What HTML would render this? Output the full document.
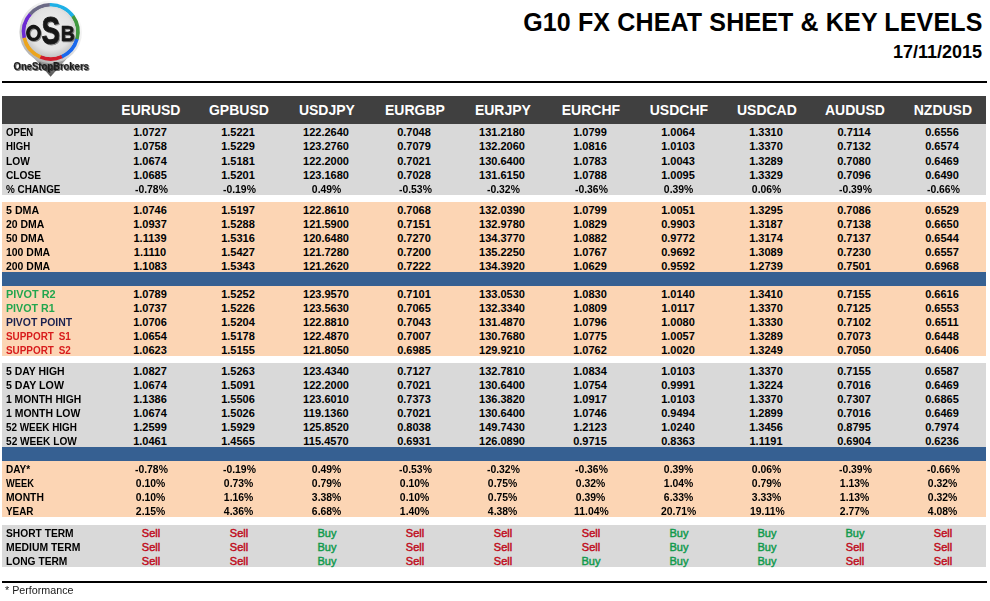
<!DOCTYPE html>
<html><head><meta charset="utf-8"><title>G10 FX Cheat Sheet</title>
<style>
*{margin:0;padding:0;box-sizing:border-box}
html,body{width:990px;height:601px;overflow:hidden;background:#fff}
body{position:relative;font-family:"Liberation Sans",sans-serif;color:#000}
.title{position:absolute;right:7.5px;top:8.3px;font-size:25px;font-weight:bold;line-height:28px;white-space:nowrap;letter-spacing:0.15px}
.date{position:absolute;right:8px;top:42px;font-size:18px;font-weight:bold;line-height:20px;white-space:nowrap}
.line{position:absolute;left:2px;width:985px;height:2px;background:#000}
.band{position:absolute;left:2px;width:984px}
.hd{background:#404040}
.gy{background:#d9d9d9}
.pc{background:#fcd5b4}
.bl{background:#366092}
.row{position:absolute;left:2px;width:984px;height:14px;display:flex;font-size:11px;font-weight:bold;line-height:14px}
.row .lab{width:104px;padding-left:3.5px;white-space:nowrap;position:relative;top:1px}
.row .lab span{display:inline-block;transform-origin:0 50%}
.row .c{width:88px;text-align:center;white-space:nowrap;position:relative;top:1px}
.hrow{height:28px;line-height:28px;font-size:14px;color:#fff}
.hrow .c{top:0;left:0.9px}
.pc1{display:inline-block;transform:scaleX(0.945);position:relative;left:1px}
.g{color:#22a64e}
.n{color:#1a2150}
.r{color:#d81c1c;word-spacing:2.4px}
.buy{color:#109a4c;font-weight:normal;-webkit-text-stroke:0.45px #109a4c;left:1px}
.sell{color:#c00c1c;font-weight:normal;-webkit-text-stroke:0.45px #c00c1c;left:1px}
.foot{position:absolute;left:5px;top:583px;font-size:11px;line-height:14px;color:#1a1a1a;transform:scaleX(0.975);transform-origin:0 50%}
.logo{position:absolute;left:0;top:0}
</style></head>
<body>
<div class="logo"><svg width="100" height="80" viewBox="0 0 100 80">
<defs>
<radialGradient id="ig" cx="0.5" cy="0.45" r="0.55"><stop offset="0" stop-color="#f0f0f0"/><stop offset="0.75" stop-color="#e2e2e2"/><stop offset="1" stop-color="#c4c4c4"/></radialGradient>
<linearGradient id="rg" x1="0.8" y1="0.1" x2="0.2" y2="0.9"><stop offset="0" stop-color="#ffffff"/><stop offset="0.5" stop-color="#e4e4e4"/><stop offset="1" stop-color="#b4b4b4"/></linearGradient>
<linearGradient id="pg" x1="0" y1="0" x2="0" y2="1"><stop offset="0.3" stop-color="#a8a8a8"/><stop offset="1" stop-color="#505050"/></linearGradient>
<filter id="sh" x="-20%" y="-20%" width="140%" height="160%"><feGaussianBlur in="SourceAlpha" stdDeviation="0.6"/><feOffset dx="0.6" dy="0.8"/><feComponentTransfer><feFuncA type="linear" slope="0.4"/></feComponentTransfer><feMerge><feMergeNode/><feMergeNode in="SourceGraphic"/></feMerge></filter>
<filter id="sh2" x="-10%" y="-30%" width="120%" height="180%"><feGaussianBlur in="SourceAlpha" stdDeviation="0.7"/><feOffset dx="0.9" dy="1"/><feComponentTransfer><feFuncA type="linear" slope="0.55"/></feComponentTransfer><feMerge><feMergeNode/><feMergeNode in="SourceGraphic"/></feMerge></filter>
</defs>
<path d="M28.5 52 L50.6 76.8 L72.7 52 Z" fill="url(#pg)"/>
<circle cx="50.75" cy="31.9" r="31.3" fill="url(#rg)"/>
<path d="M49.43 2.93 A29.0 29.0 0 0 1 74.53 15.31 L71.34 17.54 A25.1 25.1 0 0 0 49.61 6.83 Z" fill="#1eb0e6"/>
<path d="M74.36 15.06 A29.0 29.0 0 0 1 78.64 39.84 L74.89 38.78 A25.1 25.1 0 0 0 71.18 17.32 Z" fill="#40983f"/>
<path d="M78.72 39.55 A29.0 29.0 0 0 1 62.31 58.49 L60.76 54.92 A25.1 25.1 0 0 0 74.96 38.52 Z" fill="#1a68ec"/>
<path d="M62.59 58.37 A29.0 29.0 0 0 1 39.42 58.59 L40.94 55.00 A25.1 25.1 0 0 0 61.00 54.81 Z" fill="#d01c2c"/>
<path d="M39.70 58.71 A29.0 29.0 0 0 1 22.36 37.83 L26.18 37.03 A25.1 25.1 0 0 0 41.19 55.11 Z" fill="#eca41c"/>
<path d="M22.43 38.13 A29.0 29.0 0 0 1 29.03 12.68 L31.95 15.27 A25.1 25.1 0 0 0 26.24 37.29 Z" fill="#6c2ad2"/>
<path d="M28.83 12.91 A29.0 29.0 0 0 1 49.74 2.92 L49.87 6.82 A25.1 25.1 0 0 0 31.78 15.47 Z" fill="#6c6a86"/>
<circle cx="50.75" cy="31.9" r="25.3" fill="url(#ig)"/>
<g fill="#161616" stroke="#161616" stroke-width="0.15" stroke-linejoin="round" font-family="Liberation Sans" font-weight="bold" filter="url(#sh)">
<path fill-rule="evenodd" stroke="none" d="M33.5 24.85 a7.45 8.1 0 1 0 0.001 0 Z M33.65 28.45 a3.9 4.65 0 1 1 -0.001 0 Z"/>
<text x="0" y="0" font-size="39" stroke-width="0.9" transform="translate(41.6 43.9) scale(0.71 1)">S</text>
<text x="0" y="0" font-size="21.6" stroke-width="0.6" transform="translate(60.7 40.8) scale(0.9 1)">B</text>
</g>
<text x="0" y="0" font-family="Liberation Sans" font-weight="bold" font-size="10.6" fill="#1e1e1e" stroke="#1e1e1e" stroke-width="0.2" filter="url(#sh2)" transform="translate(13.6 69.6) scale(0.9 1)" textLength="83.6" lengthAdjust="spacingAndGlyphs">OneStopBrokers</text>
</svg></div>
<div class="title">G10 FX CHEAT SHEET &amp; KEY LEVELS</div>
<div class="date">17/11/2015</div>
<div class="line" style="top:81px"></div>
<div class="band hd" style="top:96px;height:28px"></div>
<div class="row hrow" style="top:96px"><div class="lab"></div><div class="c">EURUSD</div><div class="c">GPBUSD</div><div class="c">USDJPY</div><div class="c">EURGBP</div><div class="c">EURJPY</div><div class="c">EURCHF</div><div class="c">USDCHF</div><div class="c">USDCAD</div><div class="c">AUDUSD</div><div class="c">NZDUSD</div></div>
<div class="band gy" style="top:124px;height:71px"></div>
<div class="row" style="top:124.00px"><div class="lab "><span style="transform:scaleX(0.874)">OPEN</span></div><div class="c ">1.0727</div><div class="c ">1.5221</div><div class="c ">122.2640</div><div class="c ">0.7048</div><div class="c ">131.2180</div><div class="c ">1.0799</div><div class="c ">1.0064</div><div class="c ">1.3310</div><div class="c ">0.7114</div><div class="c ">0.6556</div></div>
<div class="row" style="top:138.00px"><div class="lab "><span style="transform:scaleX(0.88)">HIGH</span></div><div class="c ">1.0758</div><div class="c ">1.5229</div><div class="c ">123.2760</div><div class="c ">0.7079</div><div class="c ">132.2060</div><div class="c ">1.0816</div><div class="c ">1.0103</div><div class="c ">1.3370</div><div class="c ">0.7132</div><div class="c ">0.6574</div></div>
<div class="row" style="top:153.00px"><div class="lab "><span style="transform:scaleX(0.93)">LOW</span></div><div class="c ">1.0674</div><div class="c ">1.5181</div><div class="c ">122.2000</div><div class="c ">0.7021</div><div class="c ">130.6400</div><div class="c ">1.0783</div><div class="c ">1.0043</div><div class="c ">1.3289</div><div class="c ">0.7080</div><div class="c ">0.6469</div></div>
<div class="row" style="top:167.00px"><div class="lab "><span style="transform:scaleX(0.926)">CLOSE</span></div><div class="c ">1.0685</div><div class="c ">1.5201</div><div class="c ">123.1680</div><div class="c ">0.7028</div><div class="c ">131.6150</div><div class="c ">1.0788</div><div class="c ">1.0095</div><div class="c ">1.3329</div><div class="c ">0.7096</div><div class="c ">0.6490</div></div>
<div class="row" style="top:181.00px"><div class="lab "><span style="transform:scaleX(0.9)">% CHANGE</span></div><div class="c"><span class="pc1">-0.78%</span></div><div class="c"><span class="pc1">-0.19%</span></div><div class="c"><span class="pc1">0.49%</span></div><div class="c"><span class="pc1">-0.53%</span></div><div class="c"><span class="pc1">-0.32%</span></div><div class="c"><span class="pc1">-0.36%</span></div><div class="c"><span class="pc1">0.39%</span></div><div class="c"><span class="pc1">0.06%</span></div><div class="c"><span class="pc1">-0.39%</span></div><div class="c"><span class="pc1">-0.66%</span></div></div>
<div class="band pc" style="top:202px;height:70px"></div>
<div class="row" style="top:202.00px"><div class="lab "><span style="transform:scaleX(0.97)">5 DMA</span></div><div class="c ">1.0746</div><div class="c ">1.5197</div><div class="c ">122.8610</div><div class="c ">0.7068</div><div class="c ">132.0390</div><div class="c ">1.0799</div><div class="c ">1.0051</div><div class="c ">1.3295</div><div class="c ">0.7086</div><div class="c ">0.6529</div></div>
<div class="row" style="top:216.00px"><div class="lab "><span style="transform:scaleX(0.95)">20 DMA</span></div><div class="c ">1.0937</div><div class="c ">1.5288</div><div class="c ">121.5900</div><div class="c ">0.7151</div><div class="c ">132.9780</div><div class="c ">1.0829</div><div class="c ">0.9903</div><div class="c ">1.3187</div><div class="c ">0.7138</div><div class="c ">0.6650</div></div>
<div class="row" style="top:230.00px"><div class="lab "><span style="transform:scaleX(0.95)">50 DMA</span></div><div class="c ">1.1139</div><div class="c ">1.5316</div><div class="c ">120.6480</div><div class="c ">0.7270</div><div class="c ">134.3770</div><div class="c ">1.0882</div><div class="c ">0.9772</div><div class="c ">1.3174</div><div class="c ">0.7137</div><div class="c ">0.6544</div></div>
<div class="row" style="top:244.00px"><div class="lab "><span style="transform:scaleX(0.95)">100 DMA</span></div><div class="c ">1.1110</div><div class="c ">1.5427</div><div class="c ">121.7280</div><div class="c ">0.7200</div><div class="c ">135.2250</div><div class="c ">1.0767</div><div class="c ">0.9692</div><div class="c ">1.3089</div><div class="c ">0.7230</div><div class="c ">0.6557</div></div>
<div class="row" style="top:258.00px"><div class="lab "><span style="transform:scaleX(0.95)">200 DMA</span></div><div class="c ">1.1083</div><div class="c ">1.5343</div><div class="c ">121.2620</div><div class="c ">0.7222</div><div class="c ">134.3920</div><div class="c ">1.0629</div><div class="c ">0.9592</div><div class="c ">1.2739</div><div class="c ">0.7501</div><div class="c ">0.6968</div></div>
<div class="band bl" style="top:272px;height:14px"></div>
<div class="band pc" style="top:286px;height:70px"></div>
<div class="row" style="top:286.00px"><div class="lab g"><span style="transform:scaleX(0.99)">PIVOT R2</span></div><div class="c ">1.0789</div><div class="c ">1.5252</div><div class="c ">123.9570</div><div class="c ">0.7101</div><div class="c ">133.0530</div><div class="c ">1.0830</div><div class="c ">1.0140</div><div class="c ">1.3410</div><div class="c ">0.7155</div><div class="c ">0.6616</div></div>
<div class="row" style="top:300.00px"><div class="lab g"><span style="transform:scaleX(0.97)">PIVOT R1</span></div><div class="c ">1.0737</div><div class="c ">1.5226</div><div class="c ">123.5630</div><div class="c ">0.7065</div><div class="c ">132.3340</div><div class="c ">1.0809</div><div class="c ">1.0117</div><div class="c ">1.3370</div><div class="c ">0.7125</div><div class="c ">0.6553</div></div>
<div class="row" style="top:314.00px"><div class="lab n"><span style="transform:scaleX(0.95)">PIVOT POINT</span></div><div class="c ">1.0706</div><div class="c ">1.5204</div><div class="c ">122.8810</div><div class="c ">0.7043</div><div class="c ">131.4870</div><div class="c ">1.0796</div><div class="c ">1.0080</div><div class="c ">1.3330</div><div class="c ">0.7102</div><div class="c ">0.6511</div></div>
<div class="row" style="top:328.00px"><div class="lab r"><span style="transform:scaleX(0.9)">SUPPORT S1</span></div><div class="c ">1.0654</div><div class="c ">1.5178</div><div class="c ">122.4870</div><div class="c ">0.7007</div><div class="c ">130.7680</div><div class="c ">1.0775</div><div class="c ">1.0057</div><div class="c ">1.3289</div><div class="c ">0.7073</div><div class="c ">0.6448</div></div>
<div class="row" style="top:342.00px"><div class="lab r"><span style="transform:scaleX(0.9)">SUPPORT S2</span></div><div class="c ">1.0623</div><div class="c ">1.5155</div><div class="c ">121.8050</div><div class="c ">0.6985</div><div class="c ">129.9210</div><div class="c ">1.0762</div><div class="c ">1.0020</div><div class="c ">1.3249</div><div class="c ">0.7050</div><div class="c ">0.6406</div></div>
<div class="band gy" style="top:363px;height:84px"></div>
<div class="row" style="top:363.00px"><div class="lab "><span style="transform:scaleX(0.95)">5 DAY HIGH</span></div><div class="c ">1.0827</div><div class="c ">1.5263</div><div class="c ">123.4340</div><div class="c ">0.7127</div><div class="c ">132.7810</div><div class="c ">1.0834</div><div class="c ">1.0103</div><div class="c ">1.3370</div><div class="c ">0.7155</div><div class="c ">0.6587</div></div>
<div class="row" style="top:377.00px"><div class="lab "><span style="transform:scaleX(0.967)">5 DAY LOW</span></div><div class="c ">1.0674</div><div class="c ">1.5091</div><div class="c ">122.2000</div><div class="c ">0.7021</div><div class="c ">130.6400</div><div class="c ">1.0754</div><div class="c ">0.9991</div><div class="c ">1.3224</div><div class="c ">0.7016</div><div class="c ">0.6469</div></div>
<div class="row" style="top:391.00px"><div class="lab "><span style="transform:scaleX(0.94)">1 MONTH HIGH</span></div><div class="c ">1.1386</div><div class="c ">1.5506</div><div class="c ">123.6010</div><div class="c ">0.7373</div><div class="c ">136.3820</div><div class="c ">1.0917</div><div class="c ">1.0103</div><div class="c ">1.3370</div><div class="c ">0.7307</div><div class="c ">0.6865</div></div>
<div class="row" style="top:405.00px"><div class="lab "><span style="transform:scaleX(0.95)">1 MONTH LOW</span></div><div class="c ">1.0674</div><div class="c ">1.5026</div><div class="c ">119.1360</div><div class="c ">0.7021</div><div class="c ">130.6400</div><div class="c ">1.0746</div><div class="c ">0.9494</div><div class="c ">1.2899</div><div class="c ">0.7016</div><div class="c ">0.6469</div></div>
<div class="row" style="top:419.00px"><div class="lab "><span style="transform:scaleX(0.9)">52 WEEK HIGH</span></div><div class="c ">1.2599</div><div class="c ">1.5929</div><div class="c ">125.8520</div><div class="c ">0.8038</div><div class="c ">149.7430</div><div class="c ">1.2123</div><div class="c ">1.0240</div><div class="c ">1.3456</div><div class="c ">0.8795</div><div class="c ">0.7974</div></div>
<div class="row" style="top:433.00px"><div class="lab "><span style="transform:scaleX(0.92)">52 WEEK LOW</span></div><div class="c ">1.0461</div><div class="c ">1.4565</div><div class="c ">115.4570</div><div class="c ">0.6931</div><div class="c ">126.0890</div><div class="c ">0.9715</div><div class="c ">0.8363</div><div class="c ">1.1191</div><div class="c ">0.6904</div><div class="c ">0.6236</div></div>
<div class="band bl" style="top:447px;height:14px"></div>
<div class="band pc" style="top:461px;height:56px"></div>
<div class="row" style="top:461.00px"><div class="lab "><span style="transform:scaleX(0.915)">DAY*</span></div><div class="c"><span class="pc1">-0.78%</span></div><div class="c"><span class="pc1">-0.19%</span></div><div class="c"><span class="pc1">0.49%</span></div><div class="c"><span class="pc1">-0.53%</span></div><div class="c"><span class="pc1">-0.32%</span></div><div class="c"><span class="pc1">-0.36%</span></div><div class="c"><span class="pc1">0.39%</span></div><div class="c"><span class="pc1">0.06%</span></div><div class="c"><span class="pc1">-0.39%</span></div><div class="c"><span class="pc1">-0.66%</span></div></div>
<div class="row" style="top:475.00px"><div class="lab "><span style="transform:scaleX(0.845)">WEEK</span></div><div class="c"><span class="pc1">0.10%</span></div><div class="c"><span class="pc1">0.73%</span></div><div class="c"><span class="pc1">0.79%</span></div><div class="c"><span class="pc1">0.10%</span></div><div class="c"><span class="pc1">0.75%</span></div><div class="c"><span class="pc1">0.32%</span></div><div class="c"><span class="pc1">1.04%</span></div><div class="c"><span class="pc1">0.79%</span></div><div class="c"><span class="pc1">1.13%</span></div><div class="c"><span class="pc1">0.32%</span></div></div>
<div class="row" style="top:489.00px"><div class="lab "><span style="transform:scaleX(0.94)">MONTH</span></div><div class="c"><span class="pc1">0.10%</span></div><div class="c"><span class="pc1">1.16%</span></div><div class="c"><span class="pc1">3.38%</span></div><div class="c"><span class="pc1">0.10%</span></div><div class="c"><span class="pc1">0.75%</span></div><div class="c"><span class="pc1">0.39%</span></div><div class="c"><span class="pc1">6.33%</span></div><div class="c"><span class="pc1">3.33%</span></div><div class="c"><span class="pc1">1.13%</span></div><div class="c"><span class="pc1">0.32%</span></div></div>
<div class="row" style="top:503.00px"><div class="lab "><span style="transform:scaleX(0.9)">YEAR</span></div><div class="c"><span class="pc1">2.15%</span></div><div class="c"><span class="pc1">4.36%</span></div><div class="c"><span class="pc1">6.68%</span></div><div class="c"><span class="pc1">1.40%</span></div><div class="c"><span class="pc1">4.38%</span></div><div class="c"><span class="pc1">11.04%</span></div><div class="c"><span class="pc1">20.71%</span></div><div class="c"><span class="pc1">19.11%</span></div><div class="c"><span class="pc1">2.77%</span></div><div class="c"><span class="pc1">4.08%</span></div></div>
<div class="band gy" style="top:525px;height:42px"></div>
<div class="row" style="top:525.00px"><div class="lab "><span style="transform:scaleX(0.93)">SHORT TERM</span></div><div class="c sell">Sell</div><div class="c sell">Sell</div><div class="c buy">Buy</div><div class="c sell">Sell</div><div class="c sell">Sell</div><div class="c sell">Sell</div><div class="c buy">Buy</div><div class="c buy">Buy</div><div class="c buy">Buy</div><div class="c sell">Sell</div></div>
<div class="row" style="top:539.00px"><div class="lab "><span style="transform:scaleX(0.944)">MEDIUM TERM</span></div><div class="c sell">Sell</div><div class="c sell">Sell</div><div class="c buy">Buy</div><div class="c sell">Sell</div><div class="c sell">Sell</div><div class="c sell">Sell</div><div class="c buy">Buy</div><div class="c buy">Buy</div><div class="c sell">Sell</div><div class="c sell">Sell</div></div>
<div class="row" style="top:553.00px"><div class="lab "><span style="transform:scaleX(0.93)">LONG TERM</span></div><div class="c sell">Sell</div><div class="c sell">Sell</div><div class="c buy">Buy</div><div class="c sell">Sell</div><div class="c sell">Sell</div><div class="c buy">Buy</div><div class="c buy">Buy</div><div class="c buy">Buy</div><div class="c sell">Sell</div><div class="c sell">Sell</div></div>
<div class="line" style="top:581px"></div>
<div class="foot">* Performance</div>
</body></html>
